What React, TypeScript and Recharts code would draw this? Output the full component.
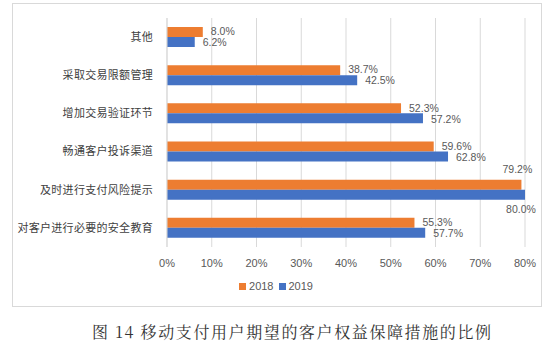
import React from 'react';
import { BarChart, Bar, XAxis, YAxis, CartesianGrid, LabelList } from 'recharts';

const categories = ['其他', '采取交易限额管理', '增加交易验证环节', '畅通客户投诉渠道', '及时进行支付风险提示', '对客户进行必要的安全教育'];
const values2018 = [8.0, 38.7, 52.3, 59.6, 79.2, 55.3];
const values2019 = [6.2, 42.5, 57.2, 62.8, 80.0, 57.7];
const seriesNames = ['2018', '2019'];
const seriesColors = ['#ED7D31', '#4472C4'];
const xTicks = [0, 10, 20, 30, 40, 50, 60, 70, 80];
const title = '图 14 移动支付用户期望的客户权益保障措施的比例';

const data = categories.map((c, i) => ({ name: c, y2018: values2018[i], y2019: values2019[i] }));

const makeLabel = (side: 'above' | 'below') => (props: any) => {
  const { x, y, width, height, value } = props;
  const txt = `${Number(value).toFixed(1)}%`;
  const end = x + width;
  if (value >= 75) {
    const ty = side === 'above' ? y - 10 : y + height + 10;
    return (
      <text x={end - 4} y={ty} dy="0.35em" textAnchor="middle" fontSize={10.5} fill="#595959" fontFamily="'Liberation Sans', Arial, sans-serif">
        {txt}
      </text>
    );
  }
  const nudge = side === 'above' ? -0.5 : 0.5;
  return (
    <text x={end + 8} y={y + height / 2 + nudge} dy="0.35em" textAnchor="start" fontSize={10.5} fill="#595959" fontFamily="'Liberation Sans', Arial, sans-serif">
      {txt}
    </text>
  );
};

export default function App() {
  return (
    <div style={{ position: 'absolute', left: 0, top: 0, width: 550, height: 353, background: '#fff' }}>
      <div style={{ position: 'absolute', left: 12, top: 3, width: 528, height: 302, border: '1px solid #d9d9d9', boxSizing: 'content-box' }} />
      <div style={{ position: 'absolute', left: 0, top: 0 }}>
        <BarChart
          width={550}
          height={272}
          data={data}
          layout="vertical"
          margin={{ top: 18, right: 25, bottom: 0, left: 0 }}
          barGap={0}
          barSize={10}
        >
          <CartesianGrid horizontal={false} vertical={true} stroke="#d9d9d9" />
          <XAxis
            type="number"
            domain={[0, 80]}
            ticks={xTicks}
            tickFormatter={(v: number) => `${v}%`}
            axisLine={false}
            tickLine={false}
            height={25}
            tick={{ fontSize: 11, fill: '#595959', fontFamily: "'Liberation Sans', Arial, sans-serif" }}
            tickMargin={6}
            interval={0}
          />
          <YAxis
            type="category"
            dataKey="name"
            width={167}
            axisLine={{ stroke: '#d9d9d9' }}
            tickLine={false}
            tickMargin={8}
            tick={{ fontSize: 11, fill: '#404040', fontFamily: "'Noto Sans CJK SC', sans-serif", letterSpacing: 0.3 }}
            interval={0}
          />
          <Bar dataKey="y2018" name={seriesNames[0]} fill={seriesColors[0]} isAnimationActive={false}>
            <LabelList dataKey="y2018" content={makeLabel('above')} />
          </Bar>
          <Bar dataKey="y2019" name={seriesNames[1]} fill={seriesColors[1]} isAnimationActive={false}>
            <LabelList dataKey="y2019" content={makeLabel('below')} />
          </Bar>
        </BarChart>
      </div>
      <div style={{ position: 'absolute', top: 280, left: 0, width: 550, display: 'flex', justifyContent: 'center', paddingLeft: 2, boxSizing: 'border-box', fontFamily: "'Liberation Sans', Arial, sans-serif", fontSize: 11, color: '#595959' }}>
        {seriesNames.map((n, i) => (
          <div key={n} style={{ display: 'flex', alignItems: 'center', marginRight: i === 0 ? 5 : 0 }}>
            <span style={{ display: 'inline-block', width: 7, height: 7, background: seriesColors[i], marginRight: 3 }} />
            <span>{n}</span>
          </div>
        ))}
      </div>
      <div style={{ position: 'absolute', top: 322, left: 92, whiteSpace: 'nowrap', fontFamily: "'Noto Serif CJK SC', 'Noto Sans CJK SC', serif", fontSize: 16, letterSpacing: 1.6, color: '#333', lineHeight: '20px' }}>
        {title}
      </div>
    </div>
  );
}
